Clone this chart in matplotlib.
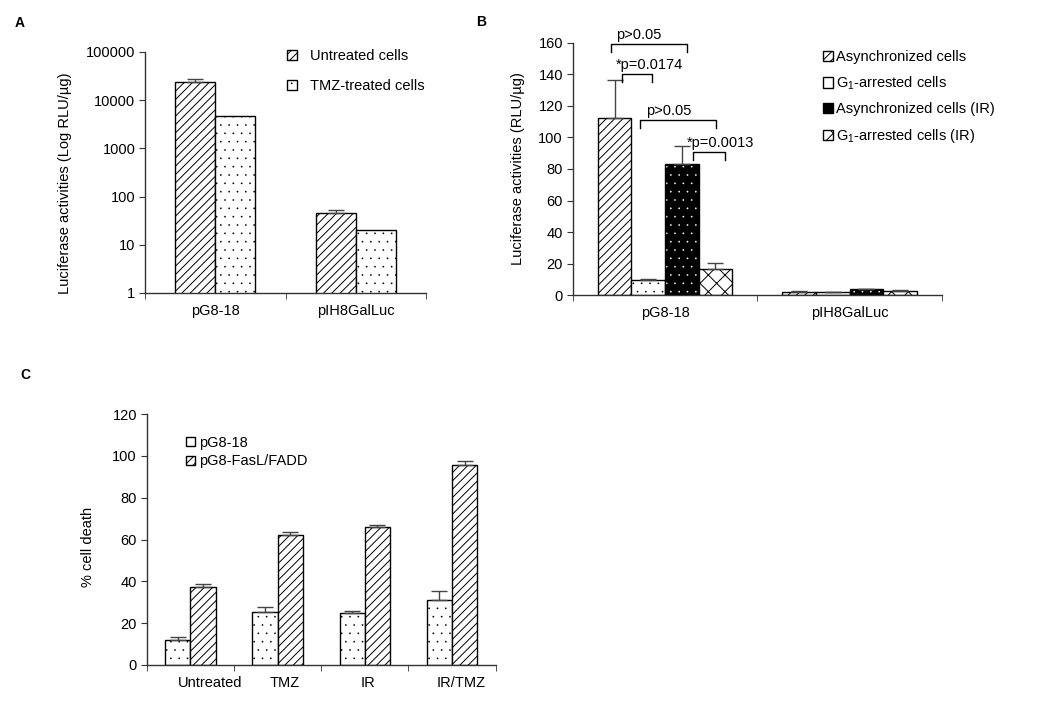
import numpy as np
import matplotlib
matplotlib.use("Agg")
import matplotlib.pyplot as plt
import matplotlib.patches as mpatches
import matplotlib.transforms as mtransforms
from matplotlib.legend_handler import HandlerTuple

plt.rcParams['font.family'] = ['Liberation Sans', 'DejaVu Sans']
plt.rcParams['mathtext.fontset'] = 'custom'
plt.rcParams['mathtext.rm'] = 'Liberation Sans'
plt.rcParams['mathtext.it'] = 'Liberation Sans'
plt.rcParams['hatch.linewidth'] = 0.7
plt.rcParams['font.size'] = 10.5

# --- Panel A data (log scale) ---
a_groups = ['pG8-18', 'pIH8GalLuc']
a_untreated = [23500, 45]
a_untreated_err = [3500, 7]
a_tmz = [4650, 20]
a_labels = ['Untreated cells', 'TMZ-treated cells']

# --- Panel B data ---
b_groups = ['pG8-18', 'pIH8GalLuc']
b_async = [112.5, 2.0]
b_async_err = [24, 0.5]
b_g1 = [10, 1.8]
b_g1_err = [0.6, 0.5]
b_async_ir = [83, 3.8]
b_async_ir_err = [11.5, 0]
b_g1_ir = [16.5, 2.8]
b_g1_ir_err = [3.8, 0.3]
b_labels = ['Asynchronized cells', 'G$_1$-arrested cells',
            'Asynchronized cells (IR)', 'G$_1$-arrested cells (IR)']
# significance brackets: (x0, x1, y, text)
b_sig = [(-0.293, 0.121, 159.1, 'p>0.05'),
         (-0.234, -0.069, 140.0, '*p=0.0174'),
         (-0.135, 0.277, 111.0, 'p>0.05'),
         (0.150, 0.324, 90.6, '*p=0.0013')]

# --- Panel C data ---
c_groups = ['Untreated', 'TMZ', 'IR', 'IR/TMZ']
c_pg818 = [12, 25.3, 24.8, 31]
c_pg818_err = [1.3, 2.2, 1.0, 4.2]
c_fasl = [37.5, 62, 65.8, 95.5]
c_fasl_err = [1.4, 1.4, 1.1, 1.9]
c_labels = ['pG8-18', 'pG8-FasL/FADD']

W, H = 1054, 708
fig = plt.figure(figsize=(W / 100, H / 100), dpi=100)


def px_axes(l, r, b, t):
    return fig.add_axes([l / W, 1 - b / H, (r - l) / W, (b - t) / H])


def style_axes(ax, ngroups):
    for s in ['top', 'right']:
        ax.spines[s].set_visible(False)
    for s in ['left', 'bottom']:
        ax.spines[s].set_color('#333333')
        ax.spines[s].set_linewidth(1)
    ax.set_xlim(-0.5, ngroups - 0.5)
    ax.set_xticks(np.arange(ngroups))
    ax.set_xticks(np.arange(ngroups + 1) - 0.5, minor=True)
    ax.tick_params(axis='x', which='major', length=0, pad=8)
    ax.tick_params(axis='x', which='minor', length=4, direction='out', color='#333333')
    ax.tick_params(axis='y', which='major', length=4, direction='out', color='#333333', pad=3)
    ax.tick_params(axis='y', which='minor', length=0)


def thin_dots(bars, lw=0.05):
    # smaller dots for the stippled fill
    for p in bars:
        if hasattr(p, 'set_hatch_linewidth'):
            p.set_hatch_linewidth(lw)


ekw = dict(ecolor='#444444', elinewidth=1, capsize=6, capthick=1)
DOTS = '..'

# ================= Panel A =================
axA = px_axes(145, 426, 293, 52)
xa = np.arange(len(a_groups))
wa = 0.285
axA.bar(xa - wa / 2, a_untreated, wa, facecolor='white', edgecolor='black', hatch='////',
        lw=1, yerr=[np.zeros(2), a_untreated_err], error_kw=ekw, label=a_labels[0], log=True)
bt = axA.bar(xa + wa / 2, a_tmz, wa, facecolor='white', edgecolor='black', hatch=DOTS,
             lw=1, label=a_labels[1], log=True)
thin_dots(bt)
axA.set_yscale('log')
axA.set_ylim(1, 100000)
axA.set_yticks([1, 10, 100, 1000, 10000, 100000])
axA.set_yticklabels(['1', '10', '100', '1000', '10000', '100000'])
style_axes(axA, 2)
axA.set_xticklabels(a_groups)
axA.set_ylabel('Luciferase activities (Log RLU/µg)')
axA.yaxis.set_label_coords(-0.26, 0.454)
legA = axA.legend(loc='upper left', bbox_to_anchor=(287 / W, 1 - 49 / H), bbox_transform=fig.transFigure,
                  frameon=False, handlelength=0.7, handleheight=0.7, handletextpad=0.85,
                  labelspacing=1.1, borderpad=0, borderaxespad=0)
thin_dots(legA.get_patches()[1:])

# ================= Panel B =================
axB = px_axes(572.7, 942, 295.3, 42.7)
xb = np.arange(len(b_groups))
wb = 0.182
off = (np.arange(4) - 1.5) * wb
hA = axB.bar(xb + off[0], b_async, wb, facecolor='white', edgecolor='black', hatch='////', lw=1,
             yerr=[np.zeros(2), b_async_err], error_kw=ekw)
hG = axB.bar(xb + off[1], b_g1, wb, facecolor='white', edgecolor='black', hatch=DOTS, lw=1,
             yerr=[np.zeros(2), b_g1_err], error_kw=ekw)
thin_dots(hG)
bk = axB.bar(xb + off[2], b_async_ir, wb, facecolor='black', edgecolor='white', hatch=DOTS, lw=0)
thin_dots(bk)
axB.bar(xb + off[2], b_async_ir, wb, fill=False, edgecolor='black', lw=1,
        yerr=[np.zeros(2), b_async_ir_err], error_kw=ekw)
hX = axB.bar(xb + off[3], b_g1_ir, wb, facecolor='white', edgecolor='black', hatch='xx', lw=1,
             yerr=[np.zeros(2), b_g1_ir_err], error_kw=ekw)
axB.set_ylim(0, 160)
axB.set_yticks(np.arange(0, 161, 20))
style_axes(axB, 2)
axB.set_xticklabels(b_groups)
axB.set_ylabel('Luciferase activities (RLU/µg)')
axB.yaxis.set_label_coords(-0.129, 0.5)

for x0, x1, y, txt in b_sig:
    axB.plot([x0, x0, x1, x1], [y - 5, y, y, y - 5], color='black', lw=1, clip_on=False)
    axB.text(x0 + 0.03 if txt.startswith('p') else x0 - 0.033, y + 1.3, txt,
             ha='left', va='bottom', fontsize=10.5, clip_on=False)

hIR = (mpatches.Patch(facecolor='black', edgecolor='black', lw=1),)
hGl = mpatches.Patch(facecolor='white', edgecolor='black', lw=1)
axB.legend([hA, hGl, hIR, hX], b_labels, handler_map={tuple: HandlerTuple(ndivide=1, pad=0)},
           loc='upper left', bbox_to_anchor=(823 / W, 1 - 50 / H), bbox_transform=fig.transFigure,
           frameon=False, handlelength=0.7, handleheight=0.7, handletextpad=0.2,
           labelspacing=0.72, borderpad=0, borderaxespad=0, fontsize=10.5)

# ================= Panel C =================
axC = px_axes(146.7, 495.7, 665, 414)
xc = np.arange(len(c_groups))
wc = 0.29
hP = axC.bar(xc - wc / 2, c_pg818, wc, facecolor='white', edgecolor='black', hatch=DOTS, lw=1,
             yerr=[np.zeros(4), c_pg818_err], error_kw=ekw)
thin_dots(hP)
hF = axC.bar(xc + wc / 2, c_fasl, wc, facecolor='white', edgecolor='black', hatch='////', lw=1,
             yerr=[np.zeros(4), c_fasl_err], error_kw=ekw)
axC.set_ylim(0, 120)
axC.set_yticks(np.arange(0, 121, 20))
style_axes(axC, 4)
axC.set_xticklabels(c_groups)
for lab, dx in zip(axC.get_xticklabels(), [20, 7, 3, 9]):
    shift = mtransforms.ScaledTranslation(dx / 100, 0, fig.dpi_scale_trans)
    lab.set_transform(lab.get_transform() + shift)
axC.set_ylabel('% cell death')
axC.yaxis.set_label_coords(-0.148, 0.471)
hPl = mpatches.Patch(facecolor='white', edgecolor='black', lw=1)
axC.legend([hPl, hF], c_labels, loc='upper left', bbox_to_anchor=(186 / W, 1 - 436 / H),
           bbox_transform=fig.transFigure, frameon=False, handlelength=0.6, handleheight=0.6,
           handletextpad=0.3, labelspacing=0.3, borderpad=0, borderaxespad=0, fontsize=10.5)

# panel letters
for txt, x, y in [('A', 19.5, 23), ('B', 481, 22), ('C', 25, 375)]:
    fig.text(x / W, 1 - y / H, txt, ha='center', va='center', fontsize=10, fontweight='bold')

fig.savefig('out.png', dpi=100, facecolor='white')
